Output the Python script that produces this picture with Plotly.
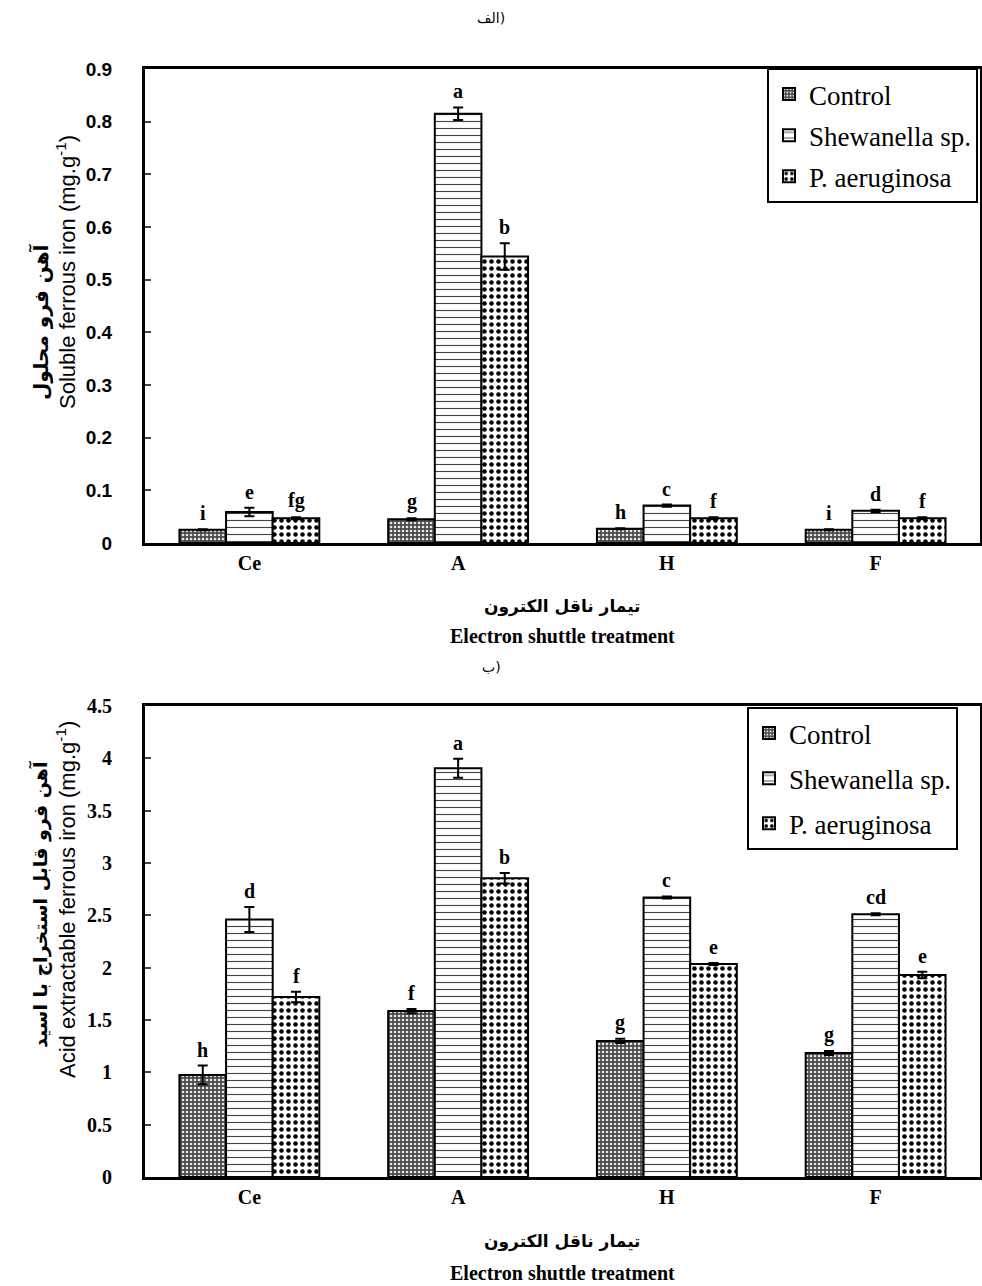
import plotly.graph_objects as go

categories = ["Ce", "A", "H", "F"]
series_names = ["Control", "Shewanella sp.", "P. aeruginosa"]

# Panel (a): soluble ferrous iron
top_control = [0.025, 0.045, 0.027, 0.025]
top_shew = [0.059, 0.815, 0.071, 0.061]
top_paer = [0.047, 0.544, 0.047, 0.047]
top_control_err = [0.001, 0.002, 0.001, 0.001]
top_shew_err = [0.008, 0.012, 0.002, 0.002]
top_paer_err = [0.002, 0.025, 0.002, 0.002]
top_letters_control = ["i", "g", "h", "i"]
top_letters_shew = ["e", "a", "c", "d"]
top_letters_paer = ["fg", "b", "f", "f"]

# Panel (b): acid extractable ferrous iron
bot_control = [0.975, 1.585, 1.30, 1.185]
bot_shew = [2.46, 3.905, 2.67, 2.51]
bot_paer = [1.72, 2.855, 2.035, 1.93]
bot_control_err = [0.09, 0.02, 0.02, 0.02]
bot_shew_err = [0.12, 0.09, 0.01, 0.01]
bot_paer_err = [0.05, 0.05, 0.01, 0.03]
bot_letters_control = ["h", "f", "g", "g"]
bot_letters_shew = ["d", "a", "c", "cd"]
bot_letters_paer = ["f", "b", "e", "e"]

W, H = 982, 1286
X0, X1 = 145, 980
TOP_Y0, TOP_Y1 = 69, 543
BOT_Y0, BOT_Y1 = 706, 1177
BARGAP = 0.33

def fy(px):
    return 1 - px / H

serif = "Liberation Serif, Times New Roman, DejaVu Serif, serif"
arab = "DejaVu Sans, Noto Sans, sans-serif"
narrow = "Liberation Sans Narrow, Liberation Sans, sans-serif"

patterns = [
    dict(shape=".", fillmode="replace", bgcolor="#4a4a4a", fgcolor="#e6e6e6", size=4, solidity=0.35),
    dict(shape="-", fillmode="replace", bgcolor="white", fgcolor="#444444", size=7, solidity=0.16),
    dict(shape=".", fillmode="replace", bgcolor="white", fgcolor="black", size=7, solidity=0.33),
]

fig = go.Figure()

panels = [
    ("x", "y", "legend", [top_control, top_shew, top_paer],
     [top_control_err, top_shew_err, top_paer_err],
     [top_letters_control, top_letters_shew, top_letters_paer]),
    ("x2", "y2", "legend2", [bot_control, bot_shew, bot_paer],
     [bot_control_err, bot_shew_err, bot_paer_err],
     [bot_letters_control, bot_letters_shew, bot_letters_paer]),
]

cat_px = (X1 - X0) / len(categories)
bar_px = cat_px * (1 - BARGAP) / 3

annotations = []
for xa, ya, lg, vals, errs, letters in panels:
    for i, name in enumerate(series_names):
        fig.add_trace(go.Bar(
            x=categories, y=vals[i], name=name, xaxis=xa, yaxis=ya,
            legend=lg, legendgroup=lg + str(i),
            marker=dict(color="white", pattern=patterns[i],
                        line=dict(color="black", width=2)),
            error_y=dict(type="data", array=errs[i], color="black",
                         thickness=2, width=5),
        ))
        for c, v, e, t in zip(categories, vals[i], errs[i], letters[i]):
            annotations.append(dict(
                x=c, y=v + e, xref=xa, yref=ya, text=t, showarrow=False,
                xshift=(i - 1) * bar_px, yshift=3, yanchor="bottom",
                font=dict(family=serif, size=20, color="black", weight="bold"),
            ))

axis_common = dict(showline=True, linewidth=3, linecolor="black", mirror=True,
                   showgrid=False, zeroline=False)

fig.update_layout(
    width=W, height=H,
    margin=dict(l=0, r=0, t=0, b=0),
    plot_bgcolor="white", paper_bgcolor="white",
    barmode="group", bargap=BARGAP, bargroupgap=0,
    showlegend=True,
    xaxis=dict(domain=[X0 / W, X1 / W], anchor="y", ticks="",
               tickfont=dict(family=serif, size=20, color="black", weight="bold"),
               automargin=False, **axis_common),
    yaxis=dict(domain=[fy(TOP_Y1), fy(TOP_Y0)], anchor="x", range=[0, 0.9],
               dtick=0.1, ticks="inside", ticklen=6, tickwidth=2,
               ticklabelstandoff=26, tickformat="~g",
               tickfont=dict(family="Liberation Sans, Arial, sans-serif", size=19,
                             color="black", weight="bold"),
               automargin=False, **axis_common),
    xaxis2=dict(domain=[X0 / W, X1 / W], anchor="y2", ticks="",
                tickfont=dict(family=serif, size=20, color="black", weight="bold"),
                automargin=False, **axis_common),
    yaxis2=dict(domain=[fy(BOT_Y1), fy(BOT_Y0)], anchor="x2", range=[0, 4.5],
                dtick=0.5, ticks="inside", ticklen=6, tickwidth=2,
                ticklabelstandoff=26, tickformat="~g",
                tickfont=dict(family=serif, size=20, color="black", weight="bold"),
                automargin=False, **axis_common),
    legend=dict(x=767 / W, y=fy(68), xanchor="left", yanchor="top",
                bgcolor="white", bordercolor="black", borderwidth=2,
                font=dict(family=serif, size=27, color="black"),
                tracegroupgap=3, itemwidth=30),
    legend2=dict(x=747 / W, y=fy(707), xanchor="left", yanchor="top",
                 bgcolor="white", bordercolor="black", borderwidth=2,
                 font=dict(family=serif, size=27, color="black"),
                 tracegroupgap=7, itemwidth=30),
)

midx = (X0 + X1) / 2 / W
extra = [
    dict(x=0.5, y=fy(18), text="الف)", font=dict(family=arab, size=14)),
    dict(x=0.5, y=fy(667), text="ب)", font=dict(family=arab, size=14)),
    dict(x=midx, y=fy(606), text="<b>تیمار ناقل الکترون</b>", font=dict(family=arab, size=17)),
    dict(x=midx, y=fy(636), text="Electron shuttle treatment", font=dict(family=serif, size=20, weight="bold")),
    dict(x=midx, y=fy(1241), text="<b>تیمار ناقل الکترون</b>", font=dict(family=arab, size=17)),
    dict(x=midx, y=fy(1273), text="Electron shuttle treatment", font=dict(family=serif, size=20, weight="bold")),
    dict(x=40 / W, y=fy(322), text="<b>آهن فرو محلول</b>", textangle=-90, font=dict(family=arab, size=20)),
    dict(x=66 / W, y=fy(272), text="Soluble ferrous iron (mg.g<sup>-1</sup>)", textangle=-90,
         font=dict(family=narrow, size=22)),
    dict(x=40 / W, y=fy(905), text="<b>آهن فرو قابل استخراج با اسید</b>", textangle=-90, font=dict(family=arab, size=19)),
    dict(x=66 / W, y=fy(900), text="Acid extractable ferrous iron (mg.g<sup>-1</sup>)", textangle=-90,
         font=dict(family=narrow, size=22)),
]
for a in extra:
    a.update(xref="paper", yref="paper", showarrow=False, xanchor="center", yanchor="middle")
    a["font"].setdefault("color", "black")
    annotations.append(a)

fig.update_layout(annotations=annotations)
fig.write_html("out.html", config={"displayModeBar": False},
               post_script="document.body.style.margin='0';")
